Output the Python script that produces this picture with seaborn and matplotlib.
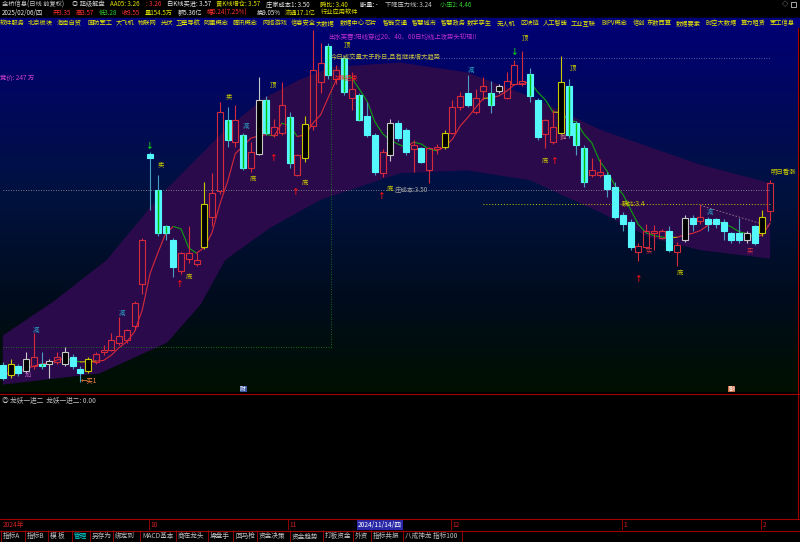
import numpy as np
import pandas as pd
import matplotlib
matplotlib.use("Agg")
import matplotlib.pyplot as plt
from matplotlib.colors import LinearSegmentedColormap
from matplotlib.patches import Rectangle
import seaborn as sns

# 日线 前复权, 2024-09-02 ~ 2025-02-06
opens = [2.25, 2.18, 2.24, 2.21, 2.24, 2.26, 2.26, 2.27, 2.26, 2.31,
         2.22, 2.21, 2.27, 2.34, 2.36, 2.41, 2.43, 2.53, 2.83, 3.76,
         3.50, 3.24, 3.14, 2.92, 3.01, 2.97, 3.09, 3.31, 3.49, 4.00,
         3.84, 3.89, 3.66, 3.76, 4.14, 3.89, 3.91, 4.02, 3.61, 3.73,
         3.96, 4.27, 4.53, 4.29, 4.44, 4.16, 4.18, 4.03, 3.89, 3.62,
         3.75, 3.98, 3.93, 3.79, 3.80, 3.64, 3.79, 3.81, 3.91, 4.09,
         4.19, 4.06, 4.21, 4.19, 4.21, 4.16, 4.26, 4.26, 4.33, 4.14,
         3.90, 3.84, 3.91, 4.24, 3.98, 3.80, 3.61, 3.61, 3.61, 3.52,
         3.32, 3.27, 3.06, 3.09, 3.19, 3.16, 3.21, 3.06, 3.14, 3.30,
         3.28, 3.29, 3.29, 3.27, 3.19, 3.19, 3.14, 3.24, 3.19, 3.35]
highs = [2.27, 2.29, 2.26, 2.34, 2.48, 2.34, 2.29, 2.34, 2.38, 2.33,
         2.24, 2.31, 2.34, 2.39, 2.48, 2.59, 2.51, 2.71, 3.16, 3.77,
         3.61, 3.25, 3.16, 3.06, 3.24, 3.05, 3.56, 3.62, 4.13, 4.09,
         4.11, 3.91, 3.84, 4.31, 4.17, 4.01, 4.27, 4.06, 3.76, 4.03,
         4.64, 4.55, 4.55, 4.39, 4.46, 4.34, 4.19, 4.13, 3.91, 3.79,
         4.01, 4.00, 3.94, 3.86, 3.81, 3.81, 3.83, 3.93, 4.14, 4.20,
         4.32, 4.22, 4.31, 4.28, 4.26, 4.34, 4.43, 4.49, 4.37, 4.16,
         4.01, 4.07, 4.46, 4.29, 3.99, 3.82, 3.73, 3.72, 3.63, 3.56,
         3.34, 3.29, 3.12, 3.26, 3.25, 3.22, 3.24, 3.13, 3.32, 3.32,
         3.39, 3.31, 3.30, 3.29, 3.20, 3.30, 3.21, 3.25, 3.36, 3.57]
lows = [2.14, 2.16, 2.17, 2.19, 2.22, 2.22, 2.16, 2.26, 2.24, 2.22,
        2.13, 2.19, 2.26, 2.32, 2.35, 2.39, 2.41, 2.50, 2.76, 3.36,
        3.17, 3.14, 2.88, 2.90, 2.98, 2.96, 3.08, 3.24, 3.47, 3.81,
        3.81, 3.64, 3.63, 3.75, 3.89, 3.88, 3.89, 3.66, 3.60, 3.70,
        3.93, 4.19, 4.29, 4.26, 4.18, 4.07, 3.99, 3.88, 3.61, 3.59,
        3.71, 3.85, 3.75, 3.63, 3.69, 3.55, 3.76, 3.79, 3.90, 4.07,
        4.09, 4.04, 4.14, 4.05, 4.19, 4.15, 4.25, 4.24, 4.13, 3.86,
        3.80, 3.83, 3.90, 3.87, 3.75, 3.52, 3.59, 3.59, 3.45, 3.29,
        3.21, 3.07, 2.99, 3.08, 3.07, 3.15, 3.06, 2.96, 3.13, 3.21,
        3.26, 3.21, 3.23, 3.14, 3.12, 3.12, 3.12, 3.11, 3.17, 3.28]
closes = [2.16, 2.26, 2.19, 2.29, 2.31, 2.24, 2.28, 2.31, 2.34, 2.24,
          2.19, 2.29, 2.33, 2.36, 2.43, 2.46, 2.50, 2.69, 3.14, 3.73,
          3.19, 3.19, 2.95, 3.05, 3.05, 3.00, 3.40, 3.48, 4.06, 3.86,
          4.00, 3.66, 3.77, 4.14, 3.91, 3.95, 4.11, 3.69, 3.75, 3.97,
          4.36, 4.41, 4.32, 4.36, 4.20, 4.22, 4.00, 3.89, 3.63, 3.77,
          3.98, 3.87, 3.77, 3.82, 3.70, 3.80, 3.81, 3.91, 4.09, 4.17,
          4.11, 4.16, 4.24, 4.11, 4.24, 4.28, 4.39, 4.28, 4.17, 3.88,
          4.00, 3.95, 4.27, 3.89, 3.82, 3.56, 3.64, 3.63, 3.51, 3.31,
          3.26, 3.09, 3.10, 3.21, 3.21, 3.21, 3.07, 3.11, 3.30, 3.26,
          3.31, 3.26, 3.26, 3.21, 3.14, 3.14, 3.19, 3.12, 3.31, 3.55]

# 特殊K线 (黑底黄框 / 黑底白框 / 绿芯)
yellow_box = [1, 11, 26, 39, 57, 72, 98]
white_box = [3, 6, 8, 33, 50, 64, 88, 96]
green_core = [5, 20, 21, 29, 31, 34, 37, 42, 44, 46, 63, 68, 73, 74, 75]

holidays = ['2024-09-16', '2024-09-17', '2024-10-01', '2024-10-02', '2024-10-03',
            '2024-10-04', '2024-10-07', '2025-01-01', '2025-01-28', '2025-01-29',
            '2025-01-30', '2025-01-31', '2025-02-03', '2025-02-04']

# 通道 (上轨 / 下轨)
band_up_x = [0.0, 6.7, 13.4, 20.3, 28.7, 33.8, 38.4, 42.6, 51.3, 59.9, 68.4, 77.1, 90.0, 99.0]
band_up = [2.46, 2.71, 3.00, 3.46, 3.93, 4.16, 4.29, 4.38, 4.41, 4.34, 4.16, 3.93, 3.68, 3.55]
band_lo_x = [0.0, 12.5, 21.2, 25.5, 28.7, 34.5, 41.0, 51.3, 59.9, 68.0, 77.1, 83.5, 90.0, 99.0]
band_lo = [2.11, 2.19, 2.41, 2.68, 3.00, 3.23, 3.43, 3.62, 3.64, 3.57, 3.34, 3.16, 3.07, 3.01]

zhuang_cost = 3.50
shunbi = 3.40
vol_line = 4.44
green_floor = 2.38
press_x = [90, 99]
press_y = [3.39, 3.24]

# 信号文字 (K线序号, 价位, 文字)
top_marks = [(44.4, 4.54, '顶'), (34.8, 4.26, '顶'), (67.4, 4.59, '顶'), (73.5, 4.38, '顶'),
             (29.2, 4.17, '卖'), (20.4, 3.68, '卖')]
bottom_marks = [(32.3, 3.58, '底'), (39.0, 3.55, '底'), (50.0, 3.51, '底'), (70.0, 3.71, '底'),
                (87.4, 2.91, '底'), (24.0, 2.88, '底')]
reduce_marks = [(4.3, 2.50), (15.4, 2.62), (31.4, 3.96), (60.4, 4.36), (91.3, 3.34)]
buy_marks = [(83.3, 3.07), (96.4, 3.07)]
up_arrows = [(35, 3.73), (37.8, 3.49), (48.9, 3.46), (71.2, 3.71), (82, 2.87), (22.8, 2.83)]
down_arrows = [(19, 3.81), (66, 4.48)]

tags = ['软件服务', '北京板块', '海南自贸', '国防军工', '大飞机', '物联网', '光伏', '卫星导航',
        '阿里概念', '腾讯概念', '网络游戏', '信息安全', '大数据', '数据中心', '芯片', '智能交通',
        '智慧城市', '智慧政务', '数字孪生', '无人机', '区块链', '人工智能', '工业互联', 'BIPV概念',
        '信创', '东数西算', '数据要素', '时空大数据', '算力租赁', '军工信息']
tag_x = [0, 28, 57, 87, 116, 138, 161, 176, 204, 233, 262, 291, 316, 340, 365, 383,
         412, 441, 467, 497, 520, 543, 571, 601, 633, 647, 676, 705, 741, 770]

tabs = ['指标A', '指标B', '模 板', '管理', '另存为', '绑定到', 'MACD基本', '商在龙头', '操盘手',
        '回马枪', '资金决策', '资金趋势', '打板资金', '外资', '指标共振', '八戒神龙 指标100']
tab_x = [3, 27, 50, 74, 92, 115, 142, 178, 210, 235, 259, 292, 325, 355, 373, 405]

RED = '#d42a3a'
CYAN = '#54f8fc'
YEL = '#c8c800'
WHT = '#c8c8c8'

sns.set_style("dark")
plt.rcParams['font.family'] = ['Noto Sans CJK SC', 'DejaVu Sans']
plt.rcParams['axes.unicode_minus'] = False

dates = pd.bdate_range('2024-09-02', '2025-02-06')
dates = dates[~dates.isin(pd.to_datetime(holidays))]
wk = '一二三四五六日'

o, h, l, c = map(np.array, (opens, highs, lows, closes))
n = len(c)
x = np.arange(n)
XL = (-0.361, 102.6)
YL = (2.057, 4.657)

fig = plt.figure(figsize=(8, 5.42), dpi=100, facecolor='black')


def fy(y):
    return 1 - y / 542


# ---------------- 主图 ----------------
ax = fig.add_axes([0, fy(392), 798 / 800, 364 / 542])
ax.set_xlim(*XL)
ax.set_ylim(*YL)
ax.axis('off')

cmap = LinearSegmentedColormap.from_list(
    'bg', [(0, '#000072'), (0.45, '#001240'), (0.75, '#000c1c'), (1, '#001000')])
ax.imshow(np.linspace(0, 1, 256).reshape(-1, 1), cmap=cmap, aspect='auto',
          extent=[XL[0], XL[1], YL[0], YL[1]], origin='upper', zorder=0)

ax.fill(np.r_[band_up_x, band_lo_x[::-1]], np.r_[band_up, band_lo[::-1]],
        color='#2b0a4c', lw=0, zorder=1)

# 辅助线
ax.hlines(zhuang_cost, 0, n - 1, color='#a0a0a0', lw=0.6, linestyles=(0, (1, 2)), zorder=2)
ax.hlines(shunbi, 61.9, n - 1, color=YEL, lw=0.7, linestyles=(0, (1, 2)), zorder=2)
ax.hlines(vol_line, 42.3, n - 1, color='#7878b0', lw=0.6, linestyles=(0, (1, 2)), zorder=2)
ax.hlines(green_floor, 0, 42.3, color='#1c8c1c', lw=0.6, linestyles=(0, (1, 2)), zorder=2)
ax.vlines(42.3, green_floor, 4.54, color='#1c8c1c', lw=0.6, linestyles=(0, (1, 2)), zorder=2)
ax.plot(press_x, press_y, color='#a07890', lw=0.6, ls=(0, (2, 2)), zorder=2)

# 均线 (红升 绿降 黄平)
ma = pd.Series(c).rolling(5, min_periods=1).mean()
d = ma.diff().fillna(0).values
seg_col = np.where(d > 0.004, RED, np.where(d < -0.004, '#10a010', '#c8b400'))
start = 0
for i in range(1, n + 1):
    if i == n or seg_col[i] != seg_col[start + 1 if start + 1 < n else start]:
        seg = slice(max(start, 0), i)
        idx = x[seg]
        if len(idx) >= 2:
            sns.lineplot(x=idx, y=ma.values[seg], color=seg_col[min(start + 1, n - 1)],
                         lw=0.8, ax=ax, legend=False, estimator=None, sort=False, zorder=3)
        start = i - 1

# K线
top = np.maximum(o, c)
bot = np.minimum(o, c)
up = c >= o
face = np.where(up, 'none', CYAN).astype(object)
edge = np.where(up, RED, CYAN).astype(object)
wick = np.where(up, RED, '#4a9cc0').astype(object)
for i in yellow_box:
    face[i], edge[i], wick[i] = 'black', YEL, YEL
for i in white_box:
    face[i], edge[i], wick[i] = 'black', WHT, WHT
ax.vlines(x, top, h, colors=list(wick), lw=0.8, zorder=4)
ax.vlines(x, l, bot, colors=list(wick), lw=0.8, zorder=4)
ax.bar(x, np.maximum(top - bot, 0.01), bottom=bot, width=0.78, color=list(face),
       edgecolor=list(edge), linewidth=0.8, zorder=5)
ax.vlines(green_core, bot[green_core], top[green_core], color='#00c000', lw=1.0, zorder=6)

# 信号
fs = 4.6
for xi, yi, s in top_marks:
    ax.text(xi, yi, s, color=YEL, fontsize=fs, ha='center', va='center', zorder=7)
for xi, yi, s in bottom_marks:
    ax.text(xi, yi, s, color=YEL, fontsize=fs, ha='center', va='center', zorder=7)
for xi, yi in reduce_marks:
    ax.text(xi, yi, '减', color='#2a9cc0', fontsize=fs, ha='center', va='center', zorder=7)
for xi, yi in buy_marks:
    ax.text(xi, yi, '买', color='#e03040', fontsize=fs, ha='center', va='center', zorder=7)
for xi, yi in up_arrows:
    ax.text(xi, yi, '↑', color='#ff1010', fontsize=5.5, fontweight='bold',
            ha='center', va='center', zorder=7)
for xi, yi in down_arrows:
    ax.text(xi, yi, '↓', color='#10e010', fontsize=5.5, fontweight='bold',
            ha='center', va='center', zorder=7)
ax.text(3.3, 2.18, '加', color='#c060c0', fontsize=fs, ha='center', va='center', zorder=7)
ax.text(10.0, 2.14, '←买1', color='#ff8040', fontsize=fs, ha='left', va='center', zorder=7)
ax.text(72.3, 3.88, '抛', color='#e07090', fontsize=fs, ha='center', va='center', zorder=7)

ax.text(-0.3, 4.30, '竞价: 247 万', color='#d040d0', fontsize=fs, va='center', zorder=7)
ax.text(42.0, 4.59, '出水芙蓉:阳线穿过20、40、60日均线上攻势头初现!!', color='#c030d0',
        fontsize=fs, va='center', zorder=7)
ax.text(42.3, 4.445, '今日成交量大于昨日,且有继续增大趋势', color='#c8c040',
        fontsize=fs, va='center', zorder=7)
ax.text(42.5, 4.30, '上涨结束', color='#ff2020', fontsize=fs, va='center', zorder=7)
ax.text(50.6, 3.50, f'庄成本:{zhuang_cost:.2f}', color='#a0a0a0', fontsize=fs, va='center', zorder=7)
ax.text(79.8, 3.40, f'瞬比:{shunbi:.1f}', color='#d0d000', fontsize=fs, va='center', zorder=7)
ax.text(99.0, 3.63, '明日看涨', color='#d0d000', fontsize=fs, va='center', zorder=7)
ax.text(31.0, 2.078, '财', color='white', fontsize=4.2, ha='center', va='center', zorder=7,
        bbox=dict(boxstyle='square,pad=0.1', fc='#3858a0', ec='none'))
ax.text(94.0, 2.078, '融', color='white', fontsize=4.2, ha='center', va='center', zorder=7,
        bbox=dict(boxstyle='square,pad=0.1', fc='#d07048', ec='none'))

# ---------------- 副图 ----------------
ax2 = fig.add_axes([0, fy(518), 798 / 800, 123 / 542])
ax2.set_xlim(0, 798)
ax2.set_ylim(123, 0)
ax2.axis('off')
ax2.add_patch(Rectangle((0, 0), 798, 123, color='black', zorder=0))
ax2.text(2, 5, '◎ 龙妖一进二  龙妖一进二: 0.00', color='#c0c0c0', fontsize=4.8, va='center')

# ---------------- 日期栏 ----------------
axd = fig.add_axes([0, fy(530), 798 / 800, 11 / 542])
axd.set_xlim(*XL)
axd.set_ylim(0, 1)
axd.axis('off')
axd.add_patch(Rectangle((XL[0], 0), XL[1] - XL[0], 1, color='black', zorder=0))
month_first = pd.Series(np.arange(n), index=dates).groupby([dates.year, dates.month]).first()
for (yy, mm), i in month_first.items():
    if i == 0:
        axd.text(0, 0.45, f'{yy}年', color='#d02020', fontsize=4.8, va='center')
        continue
    axd.vlines(i - 0.15, 0, 1, color='#900000', lw=0.7)
    axd.text(i + 0.05, 0.45, f'{mm}', color='#d02020', fontsize=4.8, va='center')
cur = int(np.where(dates == pd.Timestamp('2024-11-14'))[0][0])
cd = dates[cur]
axd.text(cur - 0.2, 0.45, f'{cd:%Y/%m/%d}/{wk[cd.weekday()]}', color='white', fontsize=4.8,
         va='center', bbox=dict(boxstyle='square,pad=0.15', fc='#2828a8', ec='none'))

# ---------------- 标签栏 ----------------
axt = fig.add_axes([0, 0, 1, 12 / 542])
axt.set_xlim(0, 800)
axt.set_ylim(12, 0)
axt.axis('off')
axt.add_patch(Rectangle((0, 0), 800, 12, color='black', zorder=0))
for s, tx in zip(tabs, tab_x):
    axt.text(tx, 6, s, color='#00e0e0' if s == '管理' else '#c0c0c0', fontsize=4.8, va='center')
    axt.vlines(tx - 2, 0, 12, color='#900000', lw=0.7)
axt.vlines(462, 0, 12, color='#900000', lw=0.7)

# ---------------- 顶部信息 ----------------
axh = fig.add_axes([0, fy(28), 1, 28 / 542])
axh.set_xlim(0, 800)
axh.set_ylim(28, 0)
axh.axis('off')
axh.add_patch(Rectangle((0, 0), 800, 18, color='black', zorder=0))
axh.add_patch(Rectangle((0, 18), 800, 10, color='#00007c', zorder=0))

pc = c[-2]
row1 = [(2, '金桥信息(日线 前复权)', '#c8c8c8'), (72, '◎ 超级解盘', '#c8c8c8'),
        (110, 'AA05: 3.26', '#e0e000'), (146, ': 3.26', '#ff3030'),
        (167, f'白K线买进: {c[-1] + 0.02:.2f}', '#e8e8e8'), (216, f'黄K线增仓: {h[-1]:.2f}', '#e0e000'),
        (266, f'庄家成本1: {zhuang_cost:.2f}', '#e8e8e8'), (320, f'瞬比: {shunbi:.2f}', '#e0e000'),
        (360, '断量: -', '#e8e8e8'), (385, '下降压力线: 3.24', '#c8c8c8'),
        (440, '小压2: 4.46', '#30d030')]
ld = dates[-1]
row2 = [(2, f'{ld:%Y/%m/%d}/{wk[ld.weekday()]}', '#e8e8e8'),
        (53, f'开{o[-1]:.2f}', '#ff3030'), (76, f'高{h[-1]:.2f}', '#ff3030'),
        (99, f'低{l[-1]:.2f}', '#30d030'), (122, f'收{c[-1]:.2f}', '#ff3030'),
        (145, '量154.5万', '#e0e000'), (178, '额5.36亿', '#e8e8e8'),
        (207, f'幅{c[-1] - pc:.2f}({(c[-1] - pc) / pc * 100:.2f}%)', '#ff3030'),
        (257, '换9.05%', '#e8e8e8'), (285, '流通17.1亿', '#e0e000'),
        (321, '行业应用软件', '#e0e000')]
for tx, s, col in row1:
    axh.text(tx, 4.5, s, color=col, fontsize=4.5, va='center')
for tx, s, col in row2:
    axh.text(tx, 13, s, color=col, fontsize=4.5, va='center')
for s, tx in zip(tags, tag_x):
    axh.text(tx, 23, s, color='#e8e800', fontsize=4.5, va='center')
axh.text(782, 4.5, '◇', color='#c0c0c0', fontsize=4.5, va='center')
axh.add_patch(Rectangle((791, 2), 5, 5, fill=False, ec='#c0c0c0', lw=0.6))

# 边框线
fig.add_artist(plt.Line2D([0, 1], [fy(394), fy(394)], color='#a00000', lw=0.8))
fig.add_artist(plt.Line2D([0, 1], [fy(519), fy(519)], color='#a00000', lw=0.8))
fig.add_artist(plt.Line2D([0, 1], [fy(530.5), fy(530.5)], color='#a00000', lw=0.8))
fig.add_artist(plt.Line2D([797.5 / 800, 797.5 / 800], [fy(28), fy(519)], color='#a00000', lw=0.8))

fig.savefig('out.png', dpi=100, facecolor='black')
